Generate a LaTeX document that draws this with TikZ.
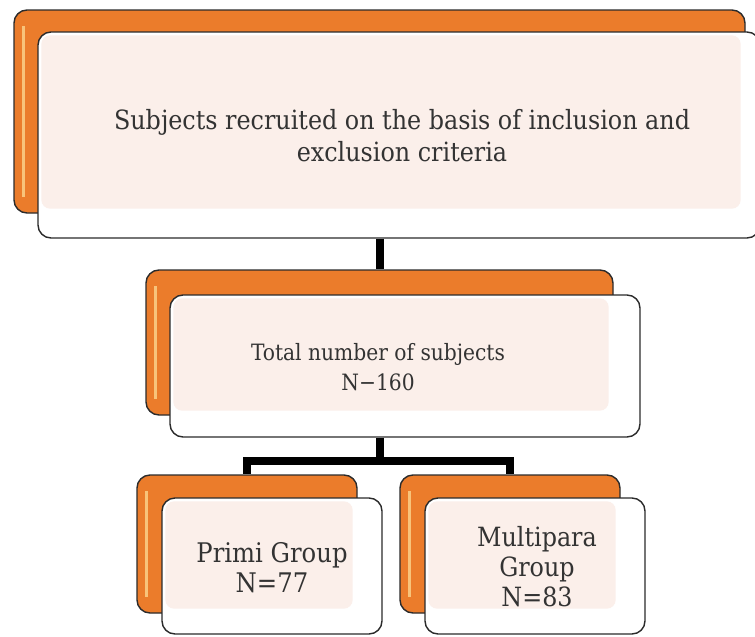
\documentclass[tikz,border=0pt]{standalone}
\usepackage{fontspec}
\setmainfont{DejaVu Serif Condensed}
\definecolor{tangerine}{HTML}{EB7C2B}
\definecolor{glint}{HTML}{F8C37A}
\definecolor{blush}{HTML}{FBEFEA}
\definecolor{inkline}{HTML}{2B2B2B}
\definecolor{inktext}{HTML}{333333}
\begin{document}
\begin{tikzpicture}[x=1pt, y=-1pt,
	backbox/.style={draw=inkline, line width=1.4pt, fill=tangerine, rounded corners=13pt,
		path picture={\draw[line width=3pt, glint] ([xshift=9pt,yshift=-16pt]path picture bounding box.north west) -- ([xshift=9pt,yshift=16pt]path picture bounding box.south west);}},
	frontbox/.style={draw=inkline, line width=1.4pt, fill=white, rounded corners=13pt, text=inktext, align=center},
	inner/.style={fill=blush, rounded corners=9pt},
	link/.style={line width=8pt, black}]
	\useasboundingbox (0,0) rectangle (755,637);
	% top box
	\node[backbox, minimum width=731pt, minimum height=203pt] (topback) at (379.5,111.5) {};
	\node[frontbox, minimum width=722pt, minimum height=206pt] (topfront) at (399,135) {};
	\fill[inner] ([shift={(4pt,-4pt)}]topfront.north west) rectangle ([shift={(-5pt,5pt)}]topback.south east);
	\node[text=inktext, align=center, font=\fontsize{26.5}{32}\selectfont] (toptext) at (402,136) {Subjects recruited on the basis\ of inclusion and\\exclusion criteria};
	% middle box
	\node[backbox, minimum width=467pt, minimum height=145pt] (midback) at (379.5,342.5) {};
	\node[frontbox, minimum width=470pt, minimum height=142pt] (midfront) at (405,366) {};
	\fill[inner] ([shift={(4pt,-4pt)}]midfront.north west) rectangle ([shift={(-5pt,5pt)}]midback.south east);
	\node[text=inktext, align=center, font=\fontsize{22.5}{30}\selectfont] (midtext) at (378,367) {Total number of subjects\\N−160};
	% bottom boxes
	\node[backbox, minimum width=220pt, minimum height=138pt] (primiback) at (247,544) {};
	\node[frontbox, minimum width=220pt, minimum height=136pt] (primifront) at (272,566) {};
	\fill[inner] ([shift={(4pt,-4pt)}]primifront.north west) rectangle ([shift={(-5pt,5pt)}]primiback.south east);
	\node[text=inktext, align=center, font=\fontsize{27}{30}\selectfont] (primitext) at (272,568) {Primi Group\\N=77};
	\node[backbox, minimum width=220pt, minimum height=138pt] (multiback) at (510,544) {};
	\node[frontbox, minimum width=220pt, minimum height=136pt] (multifront) at (535,566) {};
	\fill[inner] ([shift={(4pt,-4pt)}]multifront.north west) rectangle ([shift={(-5pt,5pt)}]multiback.south east);
	\node[text=inktext, align=center, font=\fontsize{26.5}{30}\selectfont] (multitext) at (537,567) {Multipara\\Group\\N=83};
	% connectors
	\draw[link] (topback.south |- topfront.south) -- (midback.north);
	\draw[link] (midback.south |- midfront.south) -- ++(0,23) coordinate (fork);
	\draw[link] (fork) -| (primiback.north);
	\draw[link] (fork) -| (multiback.north);
\end{tikzpicture}
\end{document}
